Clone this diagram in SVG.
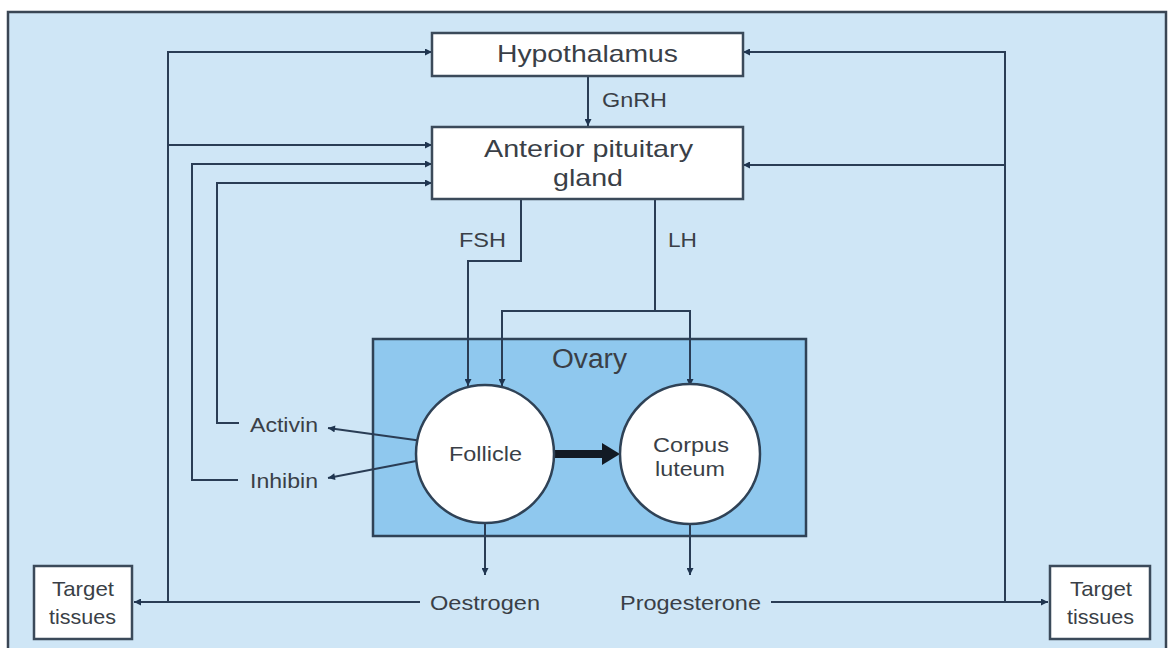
<svg xmlns="http://www.w3.org/2000/svg" width="1169" height="648" viewBox="0 0 1169 648">
<defs>
<marker id="ah" viewBox="0 0 10 10" refX="10" refY="5" markerWidth="5" markerHeight="5" markerUnits="userSpaceOnUse" orient="auto"><path d="M0,0 L10,5 L0,10 z" fill="#1f3550"/></marker>
<marker id="ahs" viewBox="0 0 10 10" refX="10" refY="5" markerWidth="9" markerHeight="7" markerUnits="userSpaceOnUse" orient="auto"><path d="M0,0 L10,5 L0,10 z" fill="#1f3550"/></marker>
</defs>
<style>
.ln{fill:none;stroke:#2a3d55;stroke-width:2}
.ar{fill:none;stroke:#2a3d55;stroke-width:2;marker-end:url(#ahs)}
.box{fill:#ffffff;stroke:#3b4a5a;stroke-width:2.5}
.t{font-family:"Liberation Sans",Arial,sans-serif;fill:#3a3f47}
.big{font-size:24px}
.sm{font-size:21px}
</style>
<rect x="0" y="0" width="1169" height="648" fill="#ffffff"/>
<rect id="frame" x="8" y="12" width="1158" height="640" fill="#cfe6f6" stroke="#3a4654" stroke-width="2.5"/>

<g id="ovary">
<rect x="373" y="339" width="433" height="197" fill="#8fc8ee" stroke="#2f4256" stroke-width="2.5"/>
<text class="t" x="552" y="368" font-size="27" textLength="75" lengthAdjust="spacingAndGlyphs">Ovary</text>
</g>

<g id="connectors">
<!-- left feedback -->
<polyline class="ar" points="168,602 168,52 432,52"/>
<line class="ar" x1="168" y1="145" x2="432" y2="145"/>
<polyline class="ar" points="238,480 192,480 192,164 432,164"/>
<polyline class="ar" points="239,423 217,423 217,183 432,183"/>
<!-- right feedback -->
<polyline class="ar" points="1005,602 1005,52 743,52"/>
<line class="ar" x1="1005" y1="165" x2="743" y2="165"/>
<!-- GnRH -->
<line class="ar" x1="588" y1="76" x2="588" y2="126"/>
<!-- FSH -->
<polyline class="ar" points="521,199 521,261 468,261 468,386"/>
<!-- LH -->
<polyline class="ln" points="655,199 655,311"/>
<polyline class="ar" points="502,311 502,386"/>
<polyline class="ar" points="690,311 690,386"/>
<line class="ln" x1="501" y1="311" x2="691" y2="311"/>
<!-- Activin / Inhibin -->
<line class="ar" x1="437" y1="443" x2="328" y2="428"/>
<line class="ar" x1="437" y1="457" x2="328" y2="478"/>
<!-- thick follicle -> corpus -->
<line x1="553" y1="454" x2="604" y2="454" stroke="#121a24" stroke-width="8"/>
<polygon points="602,443 620,454 602,465" fill="#121a24"/>
<!-- hormones down -->
<line class="ar" x1="485" y1="510" x2="485" y2="575"/>
<line class="ar" x1="690" y1="510" x2="690" y2="575"/>
<!-- to target tissues -->
<line class="ar" x1="420" y1="602" x2="134" y2="602"/>
<line class="ar" x1="771" y1="602" x2="1048" y2="602"/>
</g>

<g id="hypothalamus">
<rect class="box" x="432" y="33" width="311" height="43"/>
<text class="t big" x="497" y="62" textLength="181" lengthAdjust="spacingAndGlyphs">Hypothalamus</text>
</g>
<text class="t sm" x="602" y="107" textLength="65" lengthAdjust="spacingAndGlyphs">GnRH</text>

<g id="pituitary">
<rect class="box" x="432" y="127" width="311" height="72"/>
<text class="t big" x="484" y="157" textLength="209" lengthAdjust="spacingAndGlyphs">Anterior pituitary</text>
<text class="t big" x="553" y="186" textLength="70" lengthAdjust="spacingAndGlyphs">gland</text>
</g>
<text class="t sm" x="459" y="247" textLength="47" lengthAdjust="spacingAndGlyphs">FSH</text>
<text class="t sm" x="668" y="247" textLength="29" lengthAdjust="spacingAndGlyphs">LH</text>

<g id="follicle">
<circle cx="485" cy="454" r="69" fill="#ffffff" stroke="#2f4256" stroke-width="2.5"/>
<text class="t sm" x="449" y="461" textLength="73" lengthAdjust="spacingAndGlyphs">Follicle</text>
</g>
<g id="corpus-luteum">
<circle cx="690" cy="454" r="70" fill="#ffffff" stroke="#2f4256" stroke-width="2.5"/>
<text class="t sm" x="653" y="452" textLength="76" lengthAdjust="spacingAndGlyphs">Corpus</text>
<text class="t sm" x="655" y="476" textLength="70" lengthAdjust="spacingAndGlyphs">luteum</text>
</g>

<g id="activin"><text class="t sm" x="250" y="432" textLength="68" lengthAdjust="spacingAndGlyphs">Activin</text></g>
<g id="inhibin"><text class="t sm" x="250" y="488" textLength="68" lengthAdjust="spacingAndGlyphs">Inhibin</text></g>
<g id="oestrogen"><text class="t sm" x="430" y="610" textLength="110" lengthAdjust="spacingAndGlyphs">Oestrogen</text></g>
<g id="progesterone"><text class="t sm" x="620" y="610" textLength="141" lengthAdjust="spacingAndGlyphs">Progesterone</text></g>

<g id="target-left">
<rect class="box" x="34" y="566" width="98" height="73"/>
<text class="t sm" x="52" y="596" textLength="62" lengthAdjust="spacingAndGlyphs">Target</text>
<text class="t sm" x="49" y="624" textLength="67" lengthAdjust="spacingAndGlyphs">tissues</text>
</g>
<g id="target-right">
<rect class="box" x="1050" y="566" width="100" height="73"/>
<text class="t sm" x="1070" y="596" textLength="62" lengthAdjust="spacingAndGlyphs">Target</text>
<text class="t sm" x="1067" y="624" textLength="67" lengthAdjust="spacingAndGlyphs">tissues</text>
</g>
</svg>
